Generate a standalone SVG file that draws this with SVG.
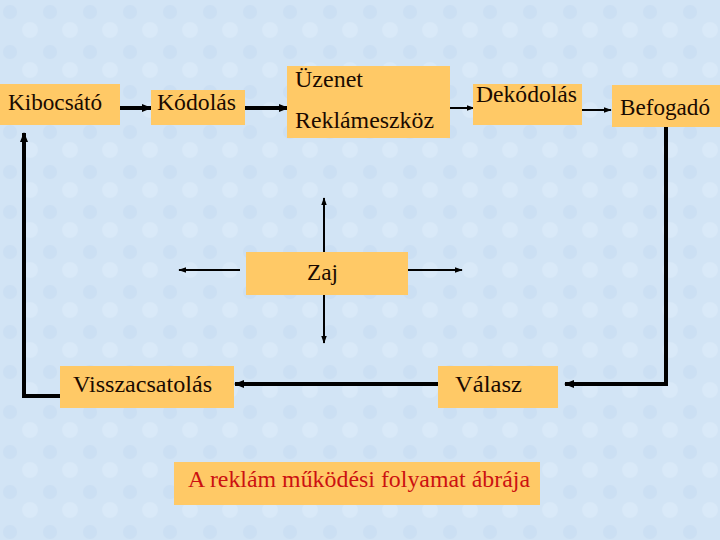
<svg xmlns="http://www.w3.org/2000/svg" width="720" height="540" viewBox="0 0 720 540">
<style>
.box{fill:#FFC966}
.t{font-family:"Liberation Serif","Times New Roman",serif;font-size:24px;fill:#1a0a00}
.thick{stroke:#000;stroke-width:4;fill:none}
.thin{stroke:#000;stroke-width:2;fill:none}
</style>
<defs>
<marker id="ah" markerUnits="userSpaceOnUse" markerWidth="10" markerHeight="10" viewBox="0 0 10 10" refX="9" refY="5" orient="auto"><path d="M0,1 L10,5 L0,9 Z" fill="#000"/></marker>
<marker id="ahs" markerUnits="userSpaceOnUse" markerWidth="8" markerHeight="8" viewBox="0 0 10 10" refX="9" refY="5" orient="auto"><path d="M0,1.5 L10,5 L0,8.5 Z" fill="#000"/></marker>
<pattern id="bg" width="40" height="40" patternUnits="userSpaceOnUse"><rect width="40" height="40" fill="#d2e4f5"/><circle cx="10" cy="12" r="7" fill="#cbdff3"/><circle cx="30" cy="30" r="8" fill="#d9e9f8"/></pattern>
</defs>
<rect width="720" height="540" fill="url(#bg)"/>
<g id="connectors">
<line class="thick" x1="120" y1="108" x2="151" y2="108" marker-end="url(#ah)"/>
<line class="thick" x1="245" y1="108" x2="288" y2="108" marker-end="url(#ah)"/>
<line class="thin" x1="450" y1="108" x2="474" y2="108" marker-end="url(#ahs)"/>
<line class="thin" x1="582" y1="110" x2="611" y2="110" marker-end="url(#ahs)"/>
<polyline class="thick" points="666,127 666,384 565,384" marker-end="url(#ah)"/>
<line class="thick" x1="438" y1="384" x2="235" y2="384" marker-end="url(#ah)"/>
<polyline class="thick" points="60,396 24,396 24,133" marker-end="url(#ah)"/>
<line class="thin" x1="324" y1="252" x2="324" y2="198" marker-end="url(#ahs)"/>
<line class="thin" x1="324" y1="295" x2="324" y2="343" marker-end="url(#ahs)"/>
<line class="thin" x1="240" y1="270" x2="179" y2="270" marker-end="url(#ahs)"/>
<line class="thin" x1="408" y1="270" x2="462" y2="270" marker-end="url(#ahs)"/>
</g>
<g id="kibocsato"><rect class="box" x="0" y="84" width="120" height="41"/><text class="t" x="8" y="110" textLength="94" lengthAdjust="spacingAndGlyphs">Kibocsátó</text></g>
<g id="kodolas"><rect class="box" x="151" y="90" width="94" height="35"/><text class="t" x="157" y="110" textLength="79" lengthAdjust="spacingAndGlyphs">Kódolás</text></g>
<g id="uzenet"><rect class="box" x="287" y="66" width="163" height="72"/><text class="t" x="295" y="87" textLength="68" lengthAdjust="spacingAndGlyphs">Üzenet</text><text class="t" x="295" y="128" textLength="139" lengthAdjust="spacingAndGlyphs">Reklámeszköz</text></g>
<g id="dekodolas"><rect class="box" x="473" y="84" width="109" height="41"/><text class="t" x="476" y="102" textLength="101" lengthAdjust="spacingAndGlyphs">Dekódolás</text></g>
<g id="befogado"><rect class="box" x="612" y="85" width="108" height="42"/><text class="t" x="620" y="115" textLength="90" lengthAdjust="spacingAndGlyphs">Befogadó</text></g>
<g id="zaj"><rect class="box" x="246" y="252" width="162" height="43"/><text class="t" x="307" y="280" textLength="31" lengthAdjust="spacingAndGlyphs">Zaj</text></g>
<g id="visszacsatolas"><rect class="box" x="60" y="366" width="174" height="42"/><text class="t" x="73" y="392" textLength="139" lengthAdjust="spacingAndGlyphs">Visszacsatolás</text></g>
<g id="valasz"><rect class="box" x="438" y="366" width="120" height="42"/><text class="t" x="455" y="392" textLength="67" lengthAdjust="spacingAndGlyphs">Válasz</text></g>
<g id="title"><rect class="box" x="174" y="462" width="366" height="43"/><text class="t" x="188" y="487" textLength="342" lengthAdjust="spacingAndGlyphs" style="fill:#cc1111">A reklám működési folyamat ábrája</text></g>
</svg>
